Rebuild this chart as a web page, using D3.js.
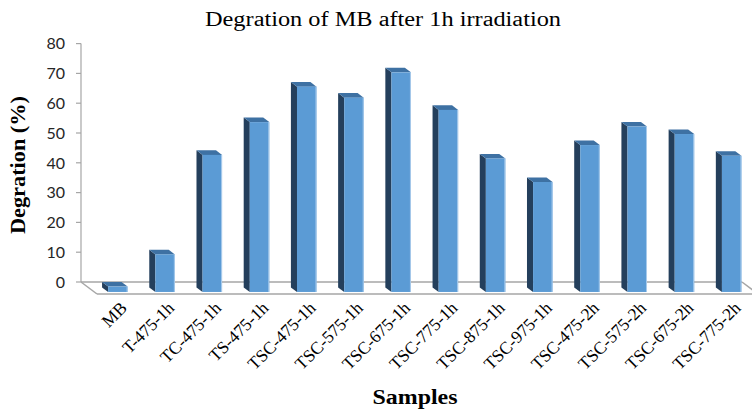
<!DOCTYPE html>
<html>
<head>
<meta charset="utf-8">
<script src="https://cdn.jsdelivr.net/npm/d3@7/dist/d3.min.js"></script>
<style>
  html, body { margin: 0; padding: 0; background: #fff; }
  svg { display: block; }
</style>
</head>
<body>
<svg id="chart" width="752" height="412"></svg>
<script>
// Sample names and MB degradation after irradiation (%)
const samples = ["MB", "T-475-1h", "TC-475-1h", "TS-475-1h", "TSC-475-1h", "TSC-575-1h",
  "TSC-675-1h", "TSC-775-1h", "TSC-875-1h", "TSC-975-1h", "TSC-475-2h", "TSC-575-2h",
  "TSC-675-2h", "TSC-775-2h"];
const degradation = [1.8, 12.6, 46.0, 57.0, 68.9, 65.2, 73.7, 61.1, 44.8, 36.9, 49.3, 55.5, 53.0, 45.7];
const yTicks = [0, 10, 20, 30, 40, 50, 60, 70, 80];

const svg = d3.select("#chart");

// Back wall / floor layout
const wallLeft = 81, wallRight = 742;
const y = d3.scaleLinear().domain([0, 80]).range([282, 43.6]);
const x = d3.scaleBand().domain(samples).range([wallLeft, wallRight]).padding(0);

// Oblique depth: full floor depth shifts points by (DX, DY)
const DX = 16, DY = 12;
const zFront = 0.83, zBack = 0.45;
const barFrac = 0.413;

function proj(px, v, z) {
  return [px + z * DX, y(v) + z * DY];
}

const colFront = "#5b9bd5";
const colSide = "#243f5c";
const colTop = "#3e71a3";
const lineCol = "#a6a6a6";

// Floor outline
const floor = svg.append("g").attr("fill", "none").attr("stroke", lineCol).attr("stroke-width", 1.5);
floor.append("line")
  .attr("x1", wallLeft).attr("y1", y(0)).attr("x2", wallRight).attr("y2", y(0));
floor.append("line")
  .attr("x1", wallLeft).attr("y1", y(0)).attr("x2", wallLeft + DX).attr("y2", y(0) + DY);
floor.append("line")
  .attr("x1", wallLeft + DX).attr("y1", y(0) + DY).attr("x2", wallRight + DX).attr("y2", y(0) + DY);
floor.append("line")
  .attr("x1", wallRight).attr("y1", y(0)).attr("x2", wallRight + DX).attr("y2", y(0) + DY);

// Vertical axis on the back wall
const axisG = svg.append("g");
axisG.append("line")
  .attr("x1", wallLeft).attr("x2", wallLeft)
  .attr("y1", y(80)).attr("y2", y(0))
  .attr("stroke", lineCol).attr("stroke-width", 1.2);
axisG.selectAll("line.tick").data(yTicks).enter().append("line")
  .attr("class", "tick")
  .attr("x1", wallLeft - 5).attr("x2", wallLeft)
  .attr("y1", d => y(d)).attr("y2", d => y(d))
  .attr("stroke", lineCol).attr("stroke-width", 1.2);
axisG.selectAll("text").data(yTicks).enter().append("text")
  .attr("x", wallLeft - 16).attr("y", d => y(d))
  .attr("dy", "0.36em")
  .attr("text-anchor", "end")
  .attr("font-family", "Lato, 'Liberation Sans', sans-serif")
  .attr("font-size", 16)
  .attr("fill", "#262626")
  .text(d => d);

// 3D columns
const bars = svg.append("g");
samples.forEach((s, i) => {
  const v = degradation[i];
  const bw = x.bandwidth() * barFrac;
  const left = x(s) + (x.bandwidth() - bw) / 2;
  const right = left + bw;
  const fTL = proj(left, v, zFront), fTR = proj(right, v, zFront);
  const fBL = proj(left, 0, zFront), fBR = proj(right, 0, zFront);
  const bTL = proj(left, v, zBack), bTR = proj(right, v, zBack);
  const bBL = proj(left, 0, zBack);
  const g = bars.append("g");
  // left side face
  g.append("polygon")
    .attr("points", [fTL, bTL, bBL, fBL].map(p => p.join(",")).join(" "))
    .attr("fill", colSide);
  // top face
  g.append("polygon")
    .attr("points", [fTL, fTR, bTR, bTL].map(p => p.join(",")).join(" "))
    .attr("fill", colTop);
  // front face
  g.append("rect")
    .attr("x", fTL[0]).attr("y", fTL[1])
    .attr("width", fTR[0] - fTL[0]).attr("height", fBL[1] - fTL[1])
    .attr("fill", colFront);
  // faint highlight on the front right edge
  g.append("line")
    .attr("x1", fTR[0] - 0.5).attr("y1", fTR[1]).attr("x2", fBR[0] - 0.5).attr("y2", fBR[1])
    .attr("stroke", "#a9cbeb").attr("stroke-width", 1);
});

// Category labels, slanted
const serif = "'Liberation Serif', 'Times New Roman', serif";
svg.append("g").selectAll("text").data(samples).enter().append("text")
  .attr("transform", d => {
    const cx = x(d) + x.bandwidth() / 2 + zFront * DX + 10;
    return `translate(${cx},${y(0) + 27}) rotate(-45)`;
  })
  .attr("text-anchor", "end")
  .attr("font-family", serif)
  .attr("font-size", 17.5)
  .attr("fill", "#000")
  .text(d => d);

// Title and axis titles
svg.append("text")
  .attr("x", 383).attr("y", 26)
  .attr("text-anchor", "middle")
  .attr("font-family", serif)
  .attr("font-size", 20)
  .attr("textLength", 356).attr("lengthAdjust", "spacingAndGlyphs")
  .attr("fill", "#000")
  .text("Degration of MB after 1h irradiation");

svg.append("text")
  .attr("transform", "translate(25,165) rotate(-90)")
  .attr("text-anchor", "middle")
  .attr("font-family", serif)
  .attr("font-weight", "bold")
  .attr("font-size", 20)
  .attr("textLength", 138).attr("lengthAdjust", "spacingAndGlyphs")
  .attr("fill", "#000")
  .text("Degration (%)");

svg.append("text")
  .attr("x", 415).attr("y", 404)
  .attr("text-anchor", "middle")
  .attr("font-family", serif)
  .attr("font-weight", "bold")
  .attr("font-size", 20)
  .attr("textLength", 85).attr("lengthAdjust", "spacingAndGlyphs")
  .attr("fill", "#000")
  .text("Samples");
</script>
</body>
</html>
